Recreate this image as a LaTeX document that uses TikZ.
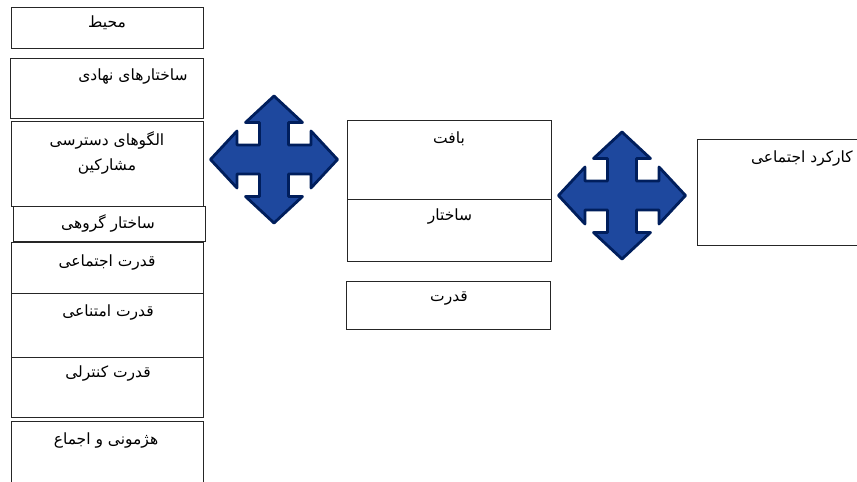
\documentclass[tikz,border=0pt]{standalone}
\usepackage{fontspec}
\newfontfamily\arabicfont[Script=Arabic]{DejaVu Sans}
\TeXXeTstate=1
\begin{document}
\begin{tikzpicture}[x=1pt,y=-1pt,
  box/.style={draw=black!85,line width=0.8pt,inner sep=0pt,outer sep=0pt},
  lbl/.style={inner sep=0pt,font=\arabicfont\fontsize{15.5}{18}\selectfont,text=black,align=center},
  quadarrow/.style={fill={rgb,255:red,30;green,72;blue,158},draw={rgb,255:red,0;green,30;blue,92},line width=2.8pt,line join=round}]
\useasboundingbox (0,0) rectangle (857,482);
\clip (0,0) rectangle (857,482);
% left column boxes
\node[box,minimum width=192pt,minimum height=41pt] (env) at (107,27.5) {};
\node[box,minimum width=193pt,minimum height=60pt] (inst) at (106.5,88) {};
\node[box,minimum width=192pt,minimum height=85pt] (access) at (107,163.5) {};
\node[box,minimum width=192pt,minimum height=35pt] (group) at (109,223.5) {};
\node[box,minimum width=192pt,minimum height=51pt] (social) at (107,267.5) {};
\node[box,minimum width=192pt,minimum height=64pt] (refuse) at (107,325) {};
\node[box,minimum width=192pt,minimum height=60pt] (control) at (107,387) {};
\node[box,minimum width=192pt,minimum height=69pt] (hegem) at (107,455.5) {};
% middle boxes
\node[box,minimum width=204pt,minimum height=79pt] (context) at (449,159.5) {};
\node[box,minimum width=204pt,minimum height=62pt] (struct) at (449,230) {};
\node[box,minimum width=204pt,minimum height=48pt] (power) at (448,305) {};
% right box
\node[box,minimum width=163pt,minimum height=106pt] (func) at (778.5,192) {};
% labels
\node[lbl] (tenv) at (107,23) {\beginR محیط\endR};
\node[lbl] (tinst) at (133,77) {\beginR ساختارهای نهادی\endR};
\node[lbl] (tacc1) at (107,140) {\beginR الگوهای دسترسی\endR};
\node[lbl] (tacc2) at (107,167) {\beginR مشارکین\endR};
\node[lbl] (tgroup) at (108,223) {\beginR ساختار گروهی\endR};
\node[lbl] (tsocial) at (107,262) {\beginR قدرت اجتماعی\endR};
\node[lbl] (trefuse) at (108,312) {\beginR قدرت امتناعی\endR};
\node[lbl] (tcontrol) at (108,373) {\beginR قدرت کنترلی\endR};
\node[lbl] (thegem) at (106,440) {\beginR هژمونی و اجماع\endR};
\node[lbl] (tcontext) at (449,139) {\beginR بافت\endR};
\node[lbl] (tstruct) at (450,217) {\beginR ساختار\endR};
\node[lbl] (tpower) at (449,298) {\beginR قدرت\endR};
\node[lbl,anchor=east] (tfunc) at (853,159) {\beginR کارکرد اجتماعی\endR};
% quad arrows
\foreach \cx/\cy in {274/159.5,622/195.5}{
\draw[quadarrow,shift={(\cx,\cy)}]
 (0,-63.5) -- (28.5,-37) -- (14.5,-37) -- (14.5,-14.5) -- (37,-14.5) -- (37,-28.5) -- (63.5,0)
 -- (37,28.5) -- (37,14.5) -- (14.5,14.5) -- (14.5,37) -- (28.5,37) -- (0,63.5)
 -- (-28.5,37) -- (-14.5,37) -- (-14.5,14.5) -- (-37,14.5) -- (-37,28.5) -- (-63.5,0)
 -- (-37,-28.5) -- (-37,-14.5) -- (-14.5,-14.5) -- (-14.5,-37) -- (-28.5,-37) -- cycle;
}
\end{tikzpicture}
\end{document}
